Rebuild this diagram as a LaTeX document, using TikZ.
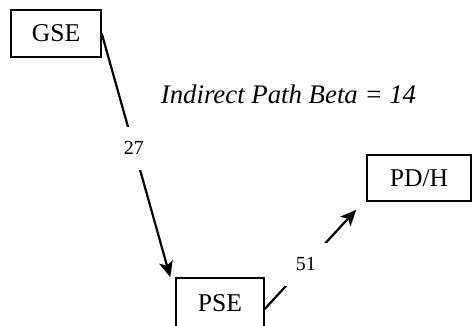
\documentclass[tikz,border=0pt]{standalone}
\usepackage{fontspec}
\setmainfont{Liberation Serif}
\usepackage{tikz}
\usetikzlibrary{arrows.meta,positioning,calc}

\begin{document}
\begin{tikzpicture}[x=0.5pt,y=-0.5pt,font=\fontsize{12.8}{15}\selectfont,
  box/.style={draw,line width=0.75pt,inner sep=0pt},
  arr/.style={line width=1.1pt,-{Stealth[length=8pt,width=7pt,inset=2pt]}},
  edgelabel/.style={fill=white,inner sep=0pt,minimum width=21pt,minimum height=21.5pt,font=\fontsize{10}{12}\selectfont}]
\useasboundingbox (0,0) rectangle (472,326);
\node[box,minimum width=45pt,minimum height=23.5pt] (gse) at (56,33.5) {GSE};
\node[box,minimum width=52pt,minimum height=23pt] (pdh) at (419,178) {PD/H};
\node[box,minimum width=44pt,minimum height=25pt] (pse) at (220,303) {PSE};
\node[anchor=base,font=\fontsize{13.4}{16}\selectfont\itshape] (beta) at (288.5,104) {Indirect Path Beta = 14};
\draw[arr] (gse.east) -- node[edgelabel,pos=0.47] (l27) {27} ([xshift=-2.5pt]pse.north west);
\draw[arr] ([yshift=-3pt]pse.east) -- node[edgelabel,pos=0.45] (l51) {51} ([shift={(-5pt,-4pt)}]pdh.south west);
\end{tikzpicture}
\end{document}
